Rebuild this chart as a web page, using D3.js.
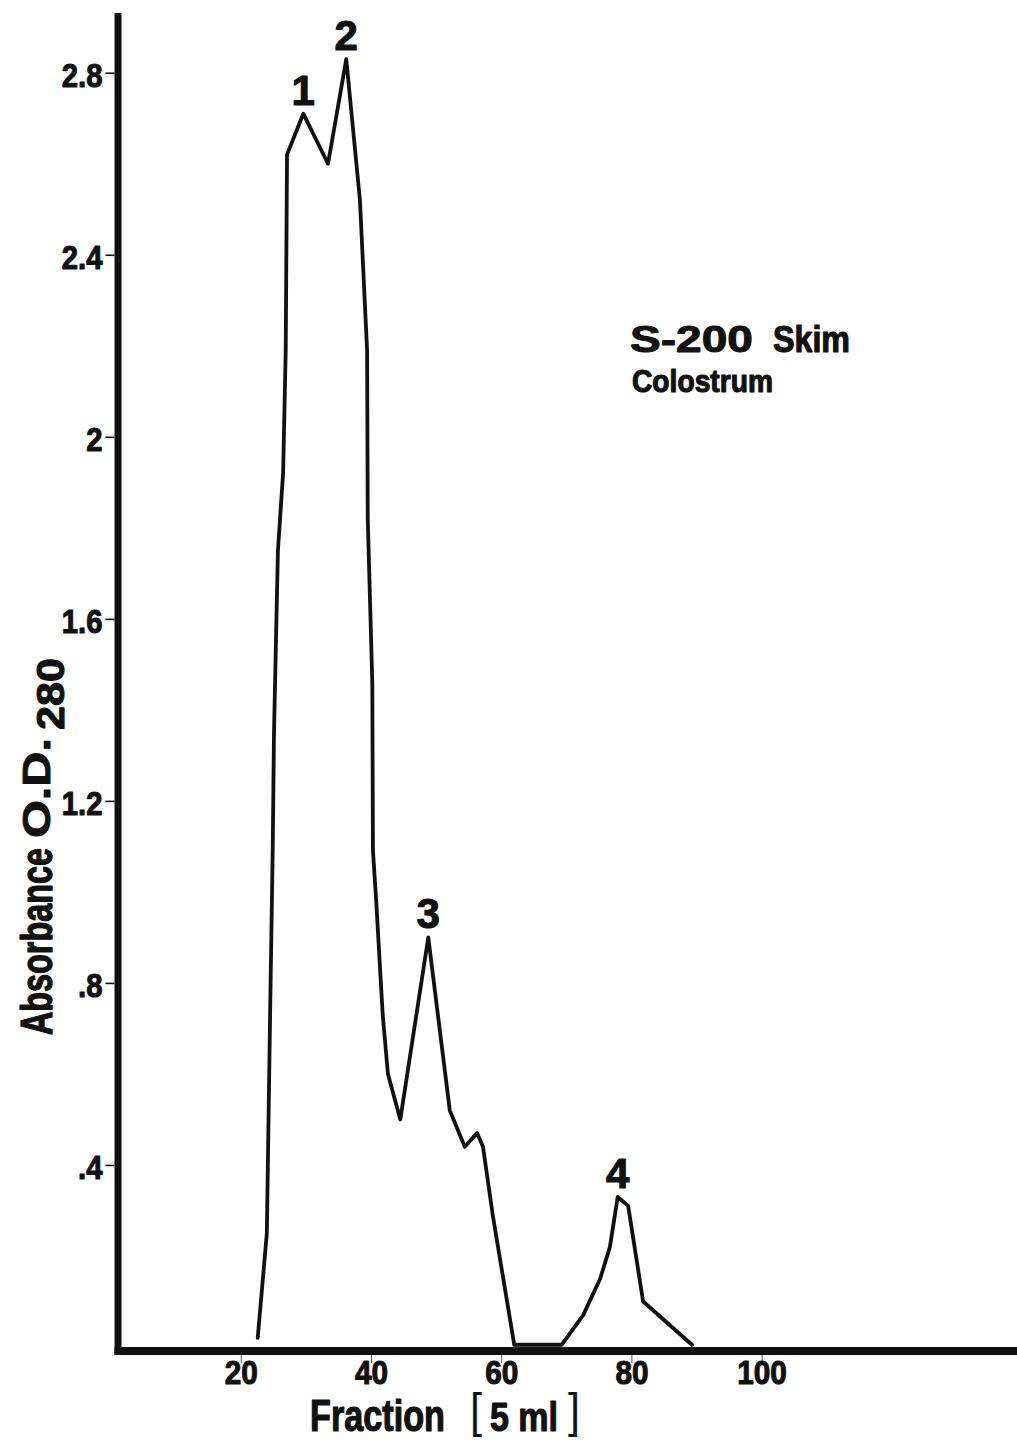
<!DOCTYPE html>
<html>
<head>
<meta charset="utf-8">
<script src="https://cdn.jsdelivr.net/npm/d3@7"></script>
<style>
  html, body { margin: 0; padding: 0; background: #fff; }
  svg { display: block; }
  text { font-family: "Liberation Sans", Arial, Helvetica, sans-serif; font-weight: bold; fill: #111; }
  .heavy { stroke: #111; stroke-width: 1.1px; stroke-linejoin: round; vector-effect: non-scaling-stroke; }
</style>
</head>
<body>
<svg id="chart" width="1017" height="1440"></svg>
<script>
// Gel filtration (S-200) elution profile of skim colostrum: absorbance at 280 nm per 5 ml fraction
const fraction = [22.6, 24.0, 24.5, 24.9, 25.1, 25.7, 26.5, 26.9, 27.1, 29.6, 33.4, 36.2, 38.3, 39.4, 39.5, 40.2, 40.3,
                  40.8, 41.8, 42.6, 44.5, 48.8, 52.1, 54.4, 56.3, 57.2, 58.7, 62.0, 69.3, 72.6, 75.2, 76.7, 77.9,
                  79.5, 81.8, 89.3];
const absorbance = [0.02, 0.25, 0.73, 1.09, 1.35, 1.75, 1.92, 2.19, 2.62, 2.71, 2.60, 2.83, 2.52, 2.19, 1.82, 1.46, 1.09,
                    0.98, 0.73, 0.60, 0.50, 0.90, 0.52, 0.44, 0.47, 0.44, 0.29, 0.005, 0.005, 0.07, 0.15, 0.22, 0.33,
                    0.31, 0.10, 0.005];

const yTickValues = [0.4, 0.8, 1.2, 1.6, 2.0, 2.4, 2.8];
const yTickLabels = [".4", ".8", "1.2", "1.6", "2", "2.4", "2.8"];
const xTickValues = [20, 40, 60, 80, 100];
const xTickLabels = ["20", "40", "60", "80", "100"];

// numbered peaks, placed at the fraction where each maximum occurs
const peakNames = ["1", "2", "3", "4"];
const peakFractions = [29.6, 36.2, 48.8, 77.9];

const svg = d3.select("#chart");
const ink = "#111";

const x = d3.scaleLinear().domain([0, 140]).range([110.6, 110.6 + 6.51 * 140]);
const y = d3.scaleLinear().domain([0, 2.8]).range([1347, 1347 - 2.8 * 455.1]);

// squeeze text horizontally to get a condensed face
function condense(sel, factor) {
  sel.each(function () {
    const w = this.getComputedTextLength();
    this.setAttribute("textLength", w * factor);
    this.setAttribute("lengthAdjust", "spacingAndGlyphs");
  });
}
// text drawn at natural size, then scaled along its baseline to a target length
function narrowText(str, px, py, size, len, opts = {}) {
  const t = svg.append("text").attr("x", 0).attr("y", 0)
    .style("font-size", size + "px").text(str);
  if (opts.weight) t.style("font-weight", opts.weight);
  if (opts.heavy !== false) t.attr("class", "heavy");
  const w = t.node().getComputedTextLength();
  const rot = opts.rotate ? ` rotate(${opts.rotate})` : "";
  t.attr("transform", `translate(${px},${py})${rot} scale(${len / w},1)`);
  return t;
}

// y axis ticks and labels
const yAxis = svg.append("g")
  .attr("transform", "translate(114.5,0)")
  .call(d3.axisLeft(y).tickValues(yTickValues)
        .tickFormat((d, i) => yTickLabels[i]).tickSize(9).tickPadding(3));
yAxis.select(".domain").remove();
yAxis.selectAll(".tick line").attr("stroke", ink).attr("stroke-width", 1.6);
yAxis.selectAll(".tick text").attr("fill", ink).attr("class", "heavy")
  .style("font-size", "34px").attr("dy", "0.4em");
condense(yAxis.selectAll(".tick text"), 0.86);

// x axis ticks and labels
const xAxis = svg.append("g")
  .attr("transform", "translate(0,1354)")
  .call(d3.axisBottom(x).tickValues(xTickValues)
        .tickFormat((d, i) => xTickLabels[i]).tickSize(9).tickPadding(-2));
xAxis.select(".domain").remove();
xAxis.selectAll(".tick line").attr("stroke", "#555").attr("stroke-width", 1);
xAxis.selectAll(".tick text").attr("fill", ink).attr("class", "heavy").style("font-size", "33px");
condense(xAxis.selectAll(".tick text"), 0.9);

// heavy axis lines
svg.append("line").attr("x1", 118).attr("x2", 118).attr("y1", 13).attr("y2", 1355)
  .attr("stroke", ink).attr("stroke-width", 7);
svg.append("line").attr("x1", 114.5).attr("x2", 1017).attr("y1", 1351).attr("y2", 1351)
  .attr("stroke", ink).attr("stroke-width", 8);

// elution curve
const pts = fraction.map((f, i) => [f, absorbance[i]]);
svg.append("path")
  .attr("d", d3.line().x(d => x(d[0])).y(d => y(d[1]))(pts))
  .attr("fill", "none").attr("stroke", ink).attr("stroke-width", 3.8)
  .attr("stroke-linejoin", "round").attr("stroke-linecap", "round");

// peak numbers
peakNames.forEach((name, i) => {
  const idx = fraction.indexOf(peakFractions[i]);
  svg.append("text").attr("class", "heavy")
    .attr("x", x(fraction[idx])).attr("y", y(absorbance[idx]) - 9)
    .attr("text-anchor", "middle").style("font-size", "42px")
    .text(name);
});

// sample annotation
narrowText("S-200", 630, 352, 37, 123);
narrowText("Skim", 773, 352, 37, 77);
narrowText("Colostrum", 632, 392, 31, 141);

// x axis title
narrowText("Fraction", 310, 1431, 44, 135);
narrowText("[", 470, 1427, 48, 12, { weight: "normal", heavy: false });
narrowText("5 ml", 490, 1431, 40, 68);
narrowText("]", 568, 1427, 48, 12, { weight: "normal", heavy: false });

// y axis title (rotated)
narrowText("Absorbance", 52, 1035, 44, 187, { rotate: -90 });
narrowText("O.D.", 50, 838, 38, 100, { rotate: -90 });
narrowText("280", 64, 730, 38, 72, { rotate: -90 });
</script>
</body>
</html>
